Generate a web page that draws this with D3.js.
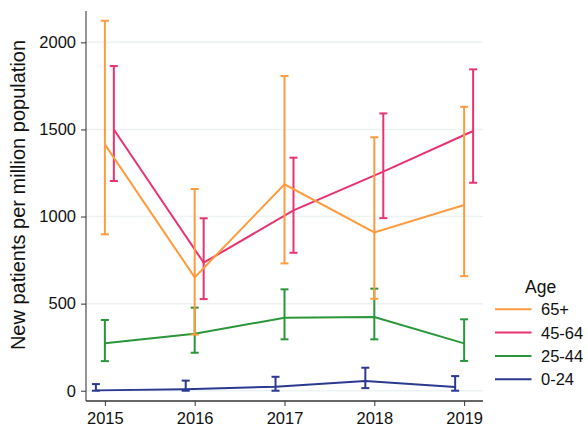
<!DOCTYPE html>
<html>
<head>
<meta charset="utf-8">
<script src="https://cdn.jsdelivr.net/npm/d3@7"></script>
<style>
  html, body { margin: 0; padding: 0; background: #fff; }
  svg { display: block; font-family: "Liberation Sans", Arial, sans-serif; }
</style>
</head>
<body>
<svg id="chart" width="588" height="426"></svg>
<script>
// Annual new patients per million population, by age group, with 95% intervals
const years = [2015, 2016, 2017, 2018, 2019];
const ageGroups = ["65+", "45-64", "25-44", "0-24"];

const rate65 = [1414, 651, 1185, 909, 1066];
const low65 = [898, 322, 731, 528, 658];
const high65 = [2124, 1158, 1807, 1455, 1630];

const rate45 = [1500, 735, 1035, 1258, 1491];
const low45 = [1204, 526, 792, 991, 1194];
const high45 = [1864, 990, 1338, 1592, 1845];

const rate25 = [272, 327, 419, 423, 272];
const low25 = [170, 218, 295, 295, 171];
const high25 = [406, 477, 582, 586, 410];

const rate0 = [2, 9, 23, 56, 22];
const low0 = [0, 0, 0, 15, 0];
const high0 = [38, 58, 80, 132, 84];

const yTicks = [0, 500, 1000, 1500, 2000];

const colours = { "65+": "#fd9b3e", "45-64": "#e9336e", "25-44": "#2a963a", "0-24": "#2b3990" };
// horizontal dodge of each group, in years
const dodge = { "65+": 0, "45-64": 0.1, "25-44": 0, "0-24": -0.1 };

const series = [
  { age: "65+", rate: rate65, low: low65, high: high65 },
  { age: "45-64", rate: rate45, low: low45, high: high45 },
  { age: "25-44", rate: rate25, low: low25, high: high25 },
  { age: "0-24", rate: rate0, low: low0, high: high0 }
];

const svg = d3.select("#chart");
const plot = { left: 86, right: 483, top: 11, bottom: 401 };

const x = d3.scaleLinear().domain([2014.79, 2019.21]).range([plot.left, plot.right]);
const y = d3.scaleLinear().domain([-59, 2180]).range([plot.bottom, plot.top]);

// gridlines
svg.append("g")
  .selectAll("line")
  .data(yTicks)
  .join("line")
  .attr("x1", plot.left).attr("x2", plot.right)
  .attr("y1", d => y(d)).attr("y2", d => y(d))
  .attr("stroke", "#edf3f3").attr("stroke-width", 1.5);

// y axis
const yAxis = svg.append("g")
  .attr("transform", `translate(${plot.left},0)`)
  .call(d3.axisLeft(y).tickValues(yTicks).tickSize(5).tickPadding(5).tickFormat(d3.format("d")));
yAxis.select(".domain").attr("d", `M0,${plot.top}V${plot.bottom}`).attr("stroke", "#707070").attr("stroke-width", 1.5);
yAxis.selectAll(".tick line").attr("stroke", "#333").attr("stroke-width", 1);
yAxis.selectAll(".tick text").attr("font-size", 16.5).attr("fill", "#111");

// x axis
const xAxis = svg.append("g")
  .attr("transform", `translate(0,${plot.bottom})`)
  .call(d3.axisBottom(x).tickValues(years).tickSize(5).tickPadding(6).tickFormat(d3.format("d")));
xAxis.select(".domain").attr("d", `M${plot.left},0H${plot.right}`).attr("stroke", "#333").attr("stroke-width", 1.5);
xAxis.selectAll(".tick line").attr("stroke", "#333").attr("stroke-width", 1);
xAxis.selectAll(".tick text").attr("font-size", 16.5).attr("fill", "#111");

// y axis title
svg.append("text")
  .attr("transform", `translate(25,195) rotate(-90)`)
  .attr("text-anchor", "middle")
  .attr("font-size", 20)
  .attr("fill", "#111")
  .text("New patients per million population");

const line = d3.line();
const capHalf = 4;

// draw back-to-front so 65+ ends on top
series.slice().reverse().forEach(s => {
  const c = colours[s.age];
  const g = svg.append("g");
  const pts = years.map((yr, i) => ({ yr, cx: x(yr + dodge[s.age]), v: s.rate[i], lo: s.low[i], hi: s.high[i] }));

  g.append("path")
    .attr("d", line(pts.map(p => [p.cx, y(p.v)])))
    .attr("fill", "none").attr("stroke", c).attr("stroke-width", 2);

  const bars = g.selectAll("g.bar").data(pts).join("g").attr("class", "bar")
    .attr("stroke", c).attr("stroke-width", 2);
  bars.append("line")
    .attr("x1", p => p.cx).attr("x2", p => p.cx)
    .attr("y1", p => y(p.lo)).attr("y2", p => y(p.hi));
  bars.append("line")
    .attr("x1", p => p.cx - capHalf).attr("x2", p => p.cx + capHalf)
    .attr("y1", p => y(p.hi)).attr("y2", p => y(p.hi));
  bars.append("line")
    .attr("x1", p => p.cx - capHalf).attr("x2", p => p.cx + capHalf)
    .attr("y1", p => y(p.lo)).attr("y2", p => y(p.lo));
});

// legend
const legend = svg.append("g");
legend.append("text")
  .attr("x", 525).attr("y", 293)
  .attr("font-size", 17.5).attr("fill", "#111")
  .text("Age");
const items = legend.selectAll("g.item").data(ageGroups).join("g").attr("class", "item")
  .attr("transform", (d, i) => `translate(0,${309.3 + i * 23.3})`);
items.append("line")
  .attr("x1", 495).attr("x2", 531.5).attr("y1", 0).attr("y2", 0)
  .attr("stroke", d => colours[d]).attr("stroke-width", 2);
items.append("text")
  .attr("x", 541).attr("y", 0).attr("dy", "0.36em")
  .attr("font-size", 16.5).attr("fill", "#111")
  .text(d => d);
</script>
</body>
</html>
